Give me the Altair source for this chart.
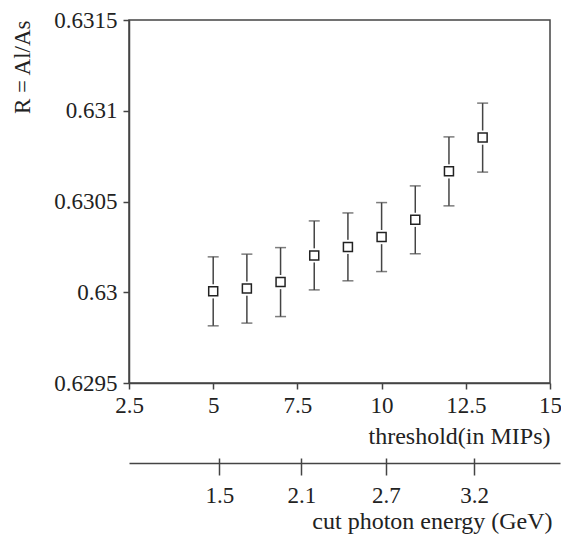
import altair as alt
import pandas as pd

# data
threshold = [5, 6, 7, 8, 9, 10, 11, 12, 13]
ratio = [0.630005, 0.63002, 0.630056, 0.630203, 0.63025, 0.630304, 0.630399, 0.630666, 0.630852]
ratio_err = [0.00019, 0.00019, 0.00019, 0.00019, 0.000187, 0.00019, 0.000187, 0.00019, 0.00019]

x_ticks = [2.5, 5, 7.5, 10, 12.5, 15]
y_ticks = [0.6295, 0.63, 0.6305, 0.631, 0.6315]

# secondary axis: energy labels and their position on the threshold scale
energy_labels = ["1.5", "2.1", "2.7", "3.2"]
energy_pos = [5.18, 7.62, 10.13, 12.75]

FONT = "Liberation Serif"
INK = "#222222"
LINE = "#444444"

df = pd.DataFrame({"t": threshold, "r": ratio, "e": ratio_err})
edf = pd.DataFrame({"pos": energy_pos, "lab": energy_labels})

xscale = alt.Scale(domain=[2.5, 15], nice=False, zero=False)
yscale = alt.Scale(domain=[0.6295, 0.6315], nice=False, zero=False)

xaxis = alt.Axis(values=x_ticks, format=".6~g", title="threshold(in MIPs)", orient="bottom",
                 tickSize=6, labelPadding=5, titlePadding=7, titleAnchor="end",
                 titleFontSize=24, labelOverlap=False, labelFlush=False)
yaxis = alt.Axis(values=y_ticks, format=".6~g", title="R = Al/As", tickSize=6, labelPadding=6,
                 titlePadding=19, titleAnchor="end", labelOverlap=False, labelFlush=False)

base = alt.Chart(df).transform_calculate(lo="datum.r - datum.e", hi="datum.r + datum.e")

bars = base.mark_rule(color=LINE, strokeWidth=1.5).encode(
    x=alt.X("t:Q", scale=xscale, axis=xaxis),
    y=alt.Y("lo:Q", scale=yscale, axis=yaxis),
    y2="hi:Q",
)
cap_lo = base.mark_tick(color=LINE, orient="horizontal", size=11, thickness=1.5).encode(
    x=alt.X("t:Q", scale=xscale), y=alt.Y("lo:Q", scale=yscale))
cap_hi = base.mark_tick(color=LINE, orient="horizontal", size=11, thickness=1.5).encode(
    x=alt.X("t:Q", scale=xscale), y=alt.Y("hi:Q", scale=yscale))
gap = base.mark_point(shape="square", filled=True, color="white", opacity=1, size=200).encode(
    x=alt.X("t:Q", scale=xscale), y=alt.Y("r:Q", scale=yscale))
pts = base.mark_point(shape="square", filled=True, fill="white", stroke=INK, strokeWidth=1.5,
                      opacity=1, size=81).encode(
    x=alt.X("t:Q", scale=xscale), y=alt.Y("r:Q", scale=yscale))

main = alt.layer(bars, cap_lo, cap_hi, gap, pts)

escale = alt.Scale(domain=[2.5, 15.297], range=[0, 431], nice=False, zero=False)
label_expr = "{labs}[indexof({pos}, datum.value)]".format(
    labs="[" + ",".join("'%s'" % s for s in energy_labels) + "]",
    pos="[" + ",".join(str(p) for p in energy_pos) + "]")

sec_a = alt.Chart(edf).mark_point(opacity=0).encode(
    x=alt.X("pos:Q", scale=escale, axis=alt.Axis(
        orient="bottom", offset=80, values=energy_pos, labelExpr=label_expr,
        tickSize=12, labelPadding=9, domain=True, title="cut photon energy (GeV)",
        titleX=423, titleAlign="right", titlePadding=2, titleFontSize=24,
        labelOverlap=False, labelFlush=False)))
sec_b = alt.Chart(edf).mark_point(opacity=0).encode(
    x=alt.X("pos:Q", scale=escale, axis=alt.Axis(
        orient="bottom", offset=75, values=energy_pos, labels=False, domain=False,
        tickSize=5, title=None)))

chart = alt.layer(main, sec_a, sec_b).resolve_scale(x="independent").properties(
    width=421, height=363, autosize="none",
    padding={"left": 129, "top": 20, "right": 11, "bottom": 151},
).configure_view(stroke=LINE, strokeWidth=1.5).configure_axis(
    grid=False, domainColor=LINE, domainWidth=1.5, tickColor=LINE, tickWidth=1.5,
    labelFont=FONT, labelFontSize=23, labelColor=INK,
    titleFont=FONT, titleFontSize=23, titleColor=INK, titleFontWeight="normal",
)

chart.save("out.html", embed_options={"renderer": "svg", "actions": False})
